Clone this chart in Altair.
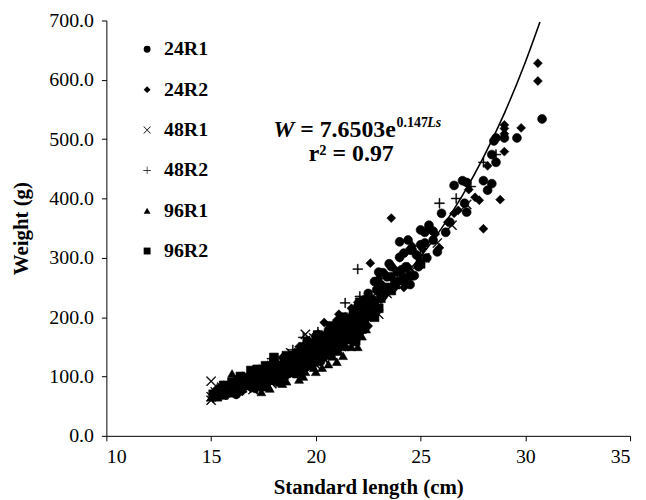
import altair as alt
import pandas as pd

# ---------------- data ----------------
groups = ["24R1", "24R2", "48R1", "48R2", "96R1", "96R2"]

g24r1_ls = [15.2, 15.6, 16.0, 16.4, 16.8, 17.2, 17.6, 18.0, 18.3, 18.6, 18.9, 19.2, 19.5, 19.8,
            20.1, 20.4, 20.7, 21.0, 21.3, 21.6, 21.9, 22.0, 22.3, 22.6, 22.9, 23.0, 23.1, 23.2,
            23.4, 23.6, 23.8, 23.9, 24.0, 24.0, 24.2, 24.2, 24.5, 24.5, 24.6, 24.8, 25.0, 25.0,
            25.2, 25.4, 26.0, 26.2, 26.6, 27.0, 27.2, 27.1, 27.2, 28.0, 28.4, 28.2, 28.4, 28.6,
            28.5, 28.6, 29.0, 29.6, 30.8,
            17.0, 17.4, 17.8, 18.2, 18.5, 19.0, 19.3, 19.7, 20.0, 20.3, 20.6, 21.1, 21.4, 21.8,
            22.2, 22.5, 22.8,
            18.1, 18.7, 19.4, 19.9, 20.2, 20.8, 21.2, 21.5, 21.9, 22.1, 22.4, 22.7, 23.3, 23.5,
            23.7, 24.3, 24.7, 25.3, 25.6,
            15.4, 15.8, 16.2, 16.6, 17.1, 17.5, 17.9, 18.4, 18.8, 19.1, 19.6, 20.0, 20.5, 20.9,
            21.3, 21.7, 22.0, 22.4, 22.8, 23.2, 23.6, 24.1, 24.4, 24.9, 25.2, 25.6, 25.8, 26.4]
g24r1_w = [72, 70, 76, 82, 85, 92, 97, 106, 112, 118, 122, 130, 138, 142,
           150, 156, 162, 170, 178, 185, 162, 218, 229, 210, 246, 276, 255, 275,
           268, 268, 258, 276, 301, 327, 308, 266, 255, 313, 313, 305, 322, 347,
           343, 355, 375, 343, 422, 430, 427, 392, 377, 430, 425, 414, 474, 461,
           497, 502, 502, 502, 534,
           100, 88, 110, 96, 128, 110, 148, 125, 168, 135, 178, 150, 198, 180,
           190, 240, 215,
           120, 105, 120, 155, 125, 145, 185, 165, 205, 175, 200, 230, 240, 290,
           250, 285, 270, 300, 330,
           78, 82, 70, 90, 80, 105, 100, 102, 135, 115, 160, 130, 170, 155,
           160, 200, 190, 215, 260, 235, 285, 280, 330, 285, 325, 345, 310, 360]

g24r2_ls = [15.1, 15.5, 15.9, 16.3, 16.7, 17.1, 17.5, 17.9, 18.2, 18.5, 18.8, 19.1, 19.4, 19.7,
            20.0, 20.4, 20.6, 20.9, 21.2, 21.5, 21.8, 22.2, 22.6, 22.8, 23.3, 23.6, 23.9, 24.4,
            24.9, 25.4, 25.9, 26.3, 26.8, 27.6, 27.8, 28.0, 28.8, 29.0, 29.0, 29.0, 29.0, 29.8,
            30.6, 30.6, 28.2,
            16.2, 16.9, 17.3, 18.0, 18.4, 18.9, 19.2, 19.6, 20.1, 20.5, 21.0, 21.3, 21.7, 22.4,
            23.0,
            16.5, 17.7, 18.6, 19.0, 19.5, 19.9, 20.3, 20.7, 21.4, 21.9, 22.1, 22.6, 23.1, 23.8,
            24.2,
            15.3, 15.7, 16.1, 16.8, 17.4, 18.1, 18.7, 19.3, 19.8, 20.2, 20.8, 21.1, 21.6, 22.0,
            22.5, 23.4, 24.0, 24.6, 25.1, 25.7, 26.6, 27.3]
g24r2_w = [68, 74, 79, 84, 88, 95, 100, 104, 114, 120, 126, 128, 136, 145,
           152, 191, 160, 168, 180, 188, 196, 205, 291, 225, 248, 367, 262, 285,
           300, 352, 317, 360, 380, 402, 397, 349, 398, 479, 509, 518, 524, 519,
           598, 628, 455,
           95, 80, 108, 92, 132, 108, 150, 118, 172, 140, 195, 158, 215, 230,
           265,
           75, 90, 102, 140, 112, 160, 128, 180, 150, 185, 215, 200, 230, 280,
           250,
           80, 68, 88, 98, 92, 124, 112, 120, 135, 165, 150, 205, 170, 225,
           185, 270, 300, 320, 315, 340, 375, 415]

g48r1_ls = [15.0, 15.0, 15.0, 15.3, 15.7, 16.1, 16.5, 16.9, 17.3, 17.7, 18.1, 18.5, 18.9, 19.3,
            19.5, 19.8, 20.2, 20.6, 21.0, 21.4, 21.8, 22.3, 22.8, 23.4, 24.0, 24.6, 25.2, 25.8,
            26.5, 27.2,
            15.5, 16.3, 17.0, 17.5, 18.3, 18.8, 19.1, 19.9, 20.4, 21.2, 21.6,
            16.7, 17.9, 18.6, 19.6, 20.0, 20.8, 21.5, 22.0,
            15.2, 16.0, 17.1, 18.0, 19.4, 20.9, 22.5, 23.0]
g48r1_w = [92, 60, 66, 72, 76, 80, 86, 90, 94, 102, 110, 116, 124, 130,
           171, 140, 148, 158, 166, 175, 186, 200, 215, 240, 258, 280, 300, 325,
           355, 390,
           82, 92, 78, 112, 98, 140, 112, 165, 130, 200, 160,
           100, 88, 125, 150, 120, 180, 190, 170,
           74, 70, 100, 115, 135, 150, 225, 205]

g48r2_ls = [15.1, 15.4, 15.8, 16.2, 16.6, 17.0, 17.4, 17.9, 18.2, 18.6, 19.0, 19.4, 19.7, 20.0,
            20.3, 20.7, 21.1, 21.4, 21.7, 22.0, 22.1, 22.5, 23.0, 23.6, 24.2, 25.0, 25.9, 26.7,
            27.4, 28.0, 28.6,
            15.6, 16.4, 17.2, 17.7, 18.4, 18.9, 19.2, 20.1, 20.5, 21.0, 21.9,
            16.9, 18.1, 18.7, 19.5, 20.2, 20.9, 21.6, 22.3,
            15.3, 16.1, 17.6, 18.8, 19.9, 20.6, 22.7, 23.3]
g48r2_w = [64, 70, 76, 82, 86, 92, 96, 130, 108, 115, 122, 166, 160, 140,
           150, 155, 170, 224, 182, 281, 235, 210, 238, 255, 280, 305, 392, 400,
           420, 461, 474,
           84, 94, 80, 118, 96, 145, 108, 175, 132, 190, 200,
           100, 92, 130, 130, 160, 140, 200, 190,
           76, 90, 90, 110, 145, 168, 215, 245]

g96r1_ls = [15.0, 15.2, 15.5, 15.8, 16.0, 16.2, 16.5, 16.8, 17.1, 17.4, 17.6, 17.9, 18.2, 18.5,
            18.8, 19.1, 19.4, 19.6, 19.9, 20.2, 20.6, 20.8, 21.1, 21.4, 21.8, 22.2,
            15.4, 16.6, 17.0, 17.3, 17.8, 18.1, 18.4, 18.9, 19.2, 19.7, 20.0, 20.4, 21.0, 21.6,
            22.0,
            15.6, 16.3, 16.9, 17.5, 18.0, 18.6, 19.0, 19.5, 19.8, 20.3, 20.7, 21.2, 21.9, 22.4,
            16.1, 16.7, 17.2, 17.7, 18.3, 18.7, 19.3, 19.9, 20.5, 21.3, 21.7]
g96r1_w = [65, 70, 72, 75, 105, 78, 80, 84, 86, 74, 90, 94, 98, 102,
           106, 112, 100, 118, 124, 128, 121, 134, 142, 150, 158, 168,
           80, 95, 96, 104, 80, 112, 88, 125, 95, 135, 108, 150, 125, 175,
           150,
           68, 86, 92, 82, 104, 92, 118, 108, 140, 115, 140, 160, 180, 180,
           72, 88, 100, 85, 90, 110, 105, 115, 135, 135, 150]

g96r2_ls = [15.1, 15.4, 15.8, 16.2, 16.5, 16.8, 17.0, 17.2, 17.5, 17.8, 18.1, 18.4, 18.7, 19.0,
            19.3, 19.6, 19.9, 20.2, 20.5, 20.8, 21.1, 21.4, 21.7, 21.8, 22.0, 22.3, 22.7, 23.1,
            23.6, 24.2,
            15.6, 16.0, 16.4, 16.9, 17.3, 17.6, 18.0, 18.3, 18.6, 19.1, 19.4, 19.8, 20.1, 20.4,
            20.7, 21.0, 21.3, 21.6, 21.9, 22.1,
            15.9, 16.3, 16.7, 17.1, 17.4, 17.9, 18.2, 18.5, 18.9, 19.2, 19.6, 20.0, 20.3, 20.6,
            20.9, 21.2, 21.5, 21.8, 22.2, 22.5, 23.0, 23.4,
            15.3, 15.7, 16.1, 16.6, 17.0, 17.7, 18.0, 18.4, 18.8, 19.2, 19.5, 19.9, 20.3, 20.7,
            21.0, 21.4, 21.7, 22.0, 22.4, 22.8, 23.2, 23.8, 24.5, 25.0]
g96r2_w = [70, 74, 78, 82, 92, 88, 100, 112, 98, 108, 104, 118, 114, 130,
           125, 140, 132, 155, 148, 168, 160, 185, 162, 175, 200, 190, 220, 232,
           245, 262,
           85, 90, 100, 110, 85, 118, 122, 92, 135, 105, 150, 120, 170, 138,
           185, 145, 200, 170, 160, 225,
           80, 76, 98, 92, 105, 115, 110, 125, 122, 138, 128, 145, 160, 150,
           175, 168, 190, 210, 180, 205, 215, 250,
           66, 80, 73, 86, 90, 95, 132, 108, 128, 118, 145, 150, 135, 160,
           185, 165, 195, 175, 220, 200, 245, 255, 270, 290]

# fitted curve W = 7.6503 e^(0.147 Ls)
curve_ls = [15, 16, 17, 18, 19, 20, 21, 22, 23, 24, 25, 26, 27, 28, 29, 30, 30.7]
curve_w = [69.4, 80.4, 93.1, 107.9, 125.0, 144.7, 167.6, 194.2, 224.9, 260.6, 301.9,
           349.7, 405.1, 469.2, 543.5, 629.6, 697.6]

x_ticks = [10, 15, 20, 25, 30, 35]
y_ticks = [0, 100, 200, 300, 400, 500, 600, 700]

# ---------------- build tables ----------------
rows = []
for g, xs, ys in [("24R1", g24r1_ls, g24r1_w), ("24R2", g24r2_ls, g24r2_w),
                  ("48R1", g48r1_ls, g48r1_w), ("48R2", g48r2_ls, g48r2_w),
                  ("96R1", g96r1_ls, g96r1_w), ("96R2", g96r2_ls, g96r2_w)]:
    for x, y in zip(xs, ys):
        rows.append({"group": g, "Ls": x, "W": y})
df = pd.DataFrame(rows)
curve_df = pd.DataFrame({"Ls": curve_ls, "W": curve_w})

FONT = "Liberation Serif"
x_scale = alt.Scale(domain=[10, 35], nice=False, zero=False)
y_scale = alt.Scale(domain=[0, 700], nice=False)

# thin filled "x" and "+" glyphs (closed outlines so they fill in plot and legend)
X_PATH = ("M-0.93,-1.07L1.07,0.93L0.93,1.07L-1.07,-0.93Z"
          "M0.93,-1.07L1.07,-0.93L-0.93,1.07L-1.07,0.93Z")
PLUS_PATH = ("M-1.1,-0.09L1.1,-0.09L1.1,0.09L-1.1,0.09Z"
             "M-0.09,-1.1L0.09,-1.1L0.09,1.1L-0.09,1.1Z")
shape_range = ["circle", "diamond", X_PATH, PLUS_PATH, "triangle-up", "square"]

x_axis = alt.Axis(values=x_ticks, grid=False, tickSize=5, labelPadding=6,
                  labelFont=FONT, labelFontSize=20, labelColor="black",
                  domainColor="black", tickColor="black", domainWidth=1, tickWidth=1,
                  titleFont=FONT, titleFontSize=21, titleFontWeight="bold", titleColor="black",
                  titleBaseline="alphabetic", titleY=58)
y_axis = alt.Axis(values=y_ticks, format=".1f", grid=False, tickSize=5, labelPadding=8,
                  labelFont=FONT, labelFontSize=20, labelColor="black",
                  domainColor="black", tickColor="black", domainWidth=1, tickWidth=1,
                  titleFont=FONT, titleFontSize=21, titleFontWeight="bold", titleColor="black",
                  titleAngle=270, titleBaseline="alphabetic", titleAlign="center",
                  titleX=-79, titleY=209)

points = alt.Chart(df).mark_point(
    filled=True, fill="black", stroke="black", strokeWidth=0.6, size=80,
    opacity=1, fillOpacity=1, strokeOpacity=1
).encode(
    x=alt.X("Ls:Q", scale=x_scale, axis=x_axis, title="Standard length (cm)"),
    y=alt.Y("W:Q", scale=y_scale, axis=y_axis, title="Weight (g)"),
    shape=alt.Shape("group:N", scale=alt.Scale(domain=groups, range=shape_range),
                    title=None,
                    legend=alt.Legend(orient="none", legendX=31, legendY=19, padding=0,
                                      labelFont=FONT, labelFontSize=20, labelFontWeight="bold",
                                      labelColor="black", symbolSize=48,
                                      symbolFillColor="black", symbolStrokeColor="black",
                                      symbolStrokeWidth=0.6, symbolOpacity=1,
                                      rowPadding=20.6, labelOffset=7)),
)

curve = alt.Chart(curve_df).mark_line(color="black", strokeWidth=1.6, interpolate="monotone",
                                      clip=True).encode(
    x=alt.X("Ls:Q", scale=x_scale),
    y=alt.Y("W:Q", scale=y_scale),
)

# annotation (anchored in data units)
ann1 = pd.DataFrame({"Ls": [17.97], "W": [504]})
ann2 = pd.DataFrame({"Ls": [21.69], "W": [464]})

def piece(df_, text, size, style, dx, dy=0, align="left"):
    return alt.Chart(df_).mark_text(
        text=text, font=FONT, fontSize=size, fontWeight="bold", fontStyle=style,
        color="black", align=align, baseline="alphabetic", dx=dx, dy=dy
    ).encode(x=alt.X("Ls:Q", scale=x_scale), y=alt.Y("W:Q", scale=y_scale))

eq = (piece(ann1, "W", 24, "italic", 0)
      + piece(ann1, "= 7.6503e", 24, "normal", 27)
      + piece(ann1, "0.147", 14, "normal", 124, -10)
      + piece(ann1, "Ls", 14, "italic", 155, -10)
      + piece(ann2, "r² = 0.97", 24, "normal", 0, 0, "center"))

chart = (curve + points + eq).properties(
    width=527, height=418,
    autosize=alt.AutoSizeParams(type="none"),
    padding={"left": 99, "top": 11, "right": 8, "bottom": 62},
).configure_view(strokeWidth=0)

chart.save("out.html", embed_options={"renderer": "svg", "actions": False})
